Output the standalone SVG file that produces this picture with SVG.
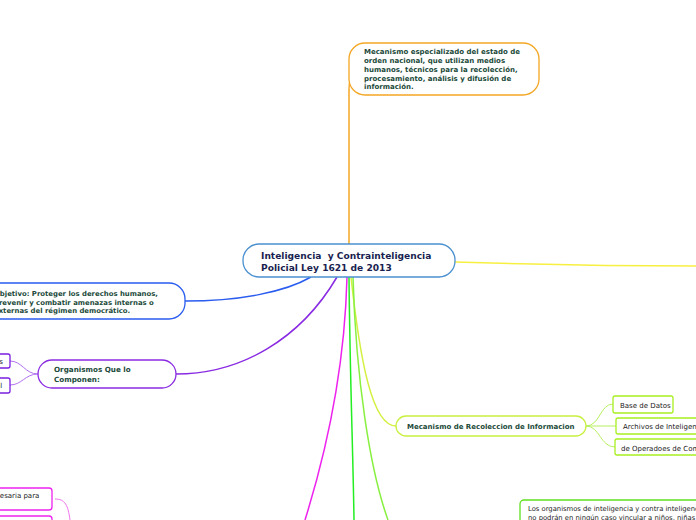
<svg xmlns="http://www.w3.org/2000/svg" width="696" height="520" viewBox="0 0 696 520">
<style>
.b{font-family:"DejaVu Sans","Liberation Sans",sans-serif;font-weight:bold;fill:#1b4a3a}
.n{font-family:"DejaVu Sans","Liberation Sans",sans-serif;fill:#222}
.c{fill:none;stroke-width:1.5}
.nd{fill:#fff;stroke-width:1.3}
</style>
<rect width="696" height="520" fill="#fff"/>
<g id="connectors">
<path class="c" stroke="#f5a623" d="M349,245 L349,90 Q349,80 352,78"/>
<path class="c" stroke="#f7f040" d="M455,262 C520,264 600,266 696,266"/>
<path class="c" stroke="#2a5cf0" d="M311,277 C285,292 240,301 185,301"/>
<path class="c" stroke="#8a2be2" d="M337,277 C300,340 240,374 176,374"/>
<path class="c" stroke="#d4f040" d="M351,277 C360,360 372,426 396,426"/>
<path class="c" stroke="#ee22ee" d="M347,277 C345,360 330,440 305,520"/>
<path class="c" stroke="#22ee22" d="M349,277 C350,380 353,450 354,520"/>
<path class="c" stroke="#88f040" d="M353,277 C356,380 370,470 388,520"/>
<path fill="none" stroke="#b8f060" stroke-width="1" d="M586,426 C600,426 600,404 613,404 M586,426 L616,426 M586,426 C600,426 600,447 615,447"/>
<path fill="none" stroke="#b070f0" stroke-width="1" d="M38,374 C25,374 22,361 10,361 M38,374 C25,374 22,385 10,385"/>
<path fill="none" stroke="#f070f0" stroke-width="1" d="M55,499 C65,499 68,505 70,520"/>
</g>
<g id="n-top">
<rect class="nd" stroke="#f5a623" x="349" y="43" width="190" height="52" rx="16"/>
<text class="b" font-size="7"><tspan x="364" y="54">Mecanismo especializado del estado de</tspan><tspan x="364" y="63">orden nacional, que utilizan medios</tspan><tspan x="364" y="72">humanos, técnicos para la recolección,</tspan><tspan x="364" y="80.5">procesamiento, análisis y difusión de</tspan><tspan x="364" y="89">información.</tspan></text>
</g>
<g id="n-center">
<rect class="nd" stroke="#4a90d0" x="243" y="244" width="212" height="33" rx="16"/>
<text class="b" font-size="9.1" style="fill:#1a1f50;white-space:pre" xml:space="preserve"><tspan x="261" y="259">Inteligencia  y Contrainteligencia</tspan><tspan x="261" y="271">Policial Ley 1621 de 2013</tspan></text>
</g>
<g id="n-objetivo">
<rect class="nd" stroke="#2a5cf0" x="-20" y="283" width="205" height="36" rx="16"/>
<text class="b" font-size="6.9"><tspan x="-6" y="296">Objetivo: Proteger los derechos humanos,</tspan><tspan x="-6" y="304.5">prevenir y combatir amenazas internas o</tspan><tspan x="-6" y="313">externas del régimen democrático.</tspan></text>
</g>
<g id="n-organismos">
<rect class="nd" stroke="#8a2be2" x="38" y="360" width="138" height="28" rx="14"/>
<text class="b" font-size="7.2"><tspan x="54" y="372">Organismos Que lo</tspan><tspan x="54" y="382">Componen:</tspan></text>
</g>
<g id="n-org1">
<rect class="nd" stroke="#7a1fe0" stroke-width="2" x="-20" y="354" width="30" height="14" rx="2"/>
<text class="n" font-size="7" x="-5" y="364">es</text>
</g>
<g id="n-org2">
<rect class="nd" stroke="#7a1fe0" stroke-width="2" x="-20" y="378" width="30" height="15" rx="2"/>
<text class="n" font-size="7" x="-4" y="388">al</text>
</g>
<g id="n-mecanismo">
<rect class="nd" stroke="#c8f040" x="396" y="416" width="190" height="20" rx="10"/>
<text class="b" font-size="7" x="407" y="429">Mecanismo de Recoleccion de Informacion</text>
</g>
<g id="n-base">
<rect class="nd" stroke="#a8f020" stroke-width="1.8" x="613" y="396" width="60" height="17" rx="2"/>
<text class="n" font-size="7" x="620" y="407.5">Base de Datos</text>
</g>
<g id="n-archivos">
<rect class="nd" stroke="#a8f020" stroke-width="1.8" x="616" y="418" width="100" height="16" rx="2"/>
<text class="n" font-size="7" x="623" y="429">Archivos de Inteligencia</text>
</g>
<g id="n-operadores">
<rect class="nd" stroke="#a8f020" stroke-width="1.8" x="615" y="439" width="100" height="16" rx="2"/>
<text class="n" font-size="7" x="621" y="450.5">de Operadoes de Comunicaciones</text>
</g>
<g id="n-bottom-right">
<rect class="nd" stroke="#60e020" stroke-width="1.8" x="520" y="500" width="200" height="40" rx="4"/>
<text class="n" font-size="6.8"><tspan x="528" y="511">Los organismos de inteligencia y contra inteligencia</tspan><tspan x="528" y="519.5">no podrán en ningún caso vincular a niños, niñas y</tspan></text>
</g>
<g id="n-bl1">
<rect class="nd" stroke="#ee22ee" stroke-width="1.8" x="-20" y="488" width="72" height="22" rx="3"/>
<text class="n" font-size="7" x="-4" y="498">cesaria para</text>
</g>
<g id="n-bl2">
<rect class="nd" stroke="#ee22ee" stroke-width="1.8" x="-20" y="516" width="72" height="22" rx="3"/>
</g>
</svg>
